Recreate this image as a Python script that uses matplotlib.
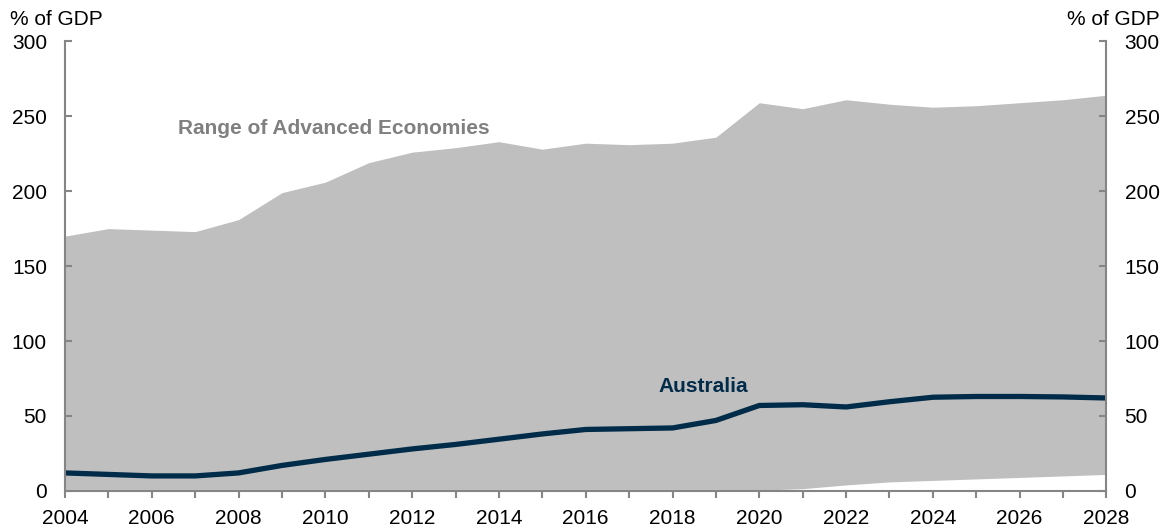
import matplotlib.pyplot as plt
import numpy as np

plt.rcParams['font.family'] = ['Liberation Sans', 'DejaVu Sans']

years = np.arange(2004, 2029)
# upper and lower bound of advanced economies range, % of GDP
range_high = [170, 175, 174, 173, 181, 199, 206, 219, 226, 229, 233, 228, 232, 231, 232, 236,
              259, 255, 261, 258, 256, 257, 259, 261, 264]
range_low = [1, 1, 1, 1, 1, 1, 1, 1, 1, 1, 1, 1, 1, 1, 1, 1,
             0.5, 1.5, 4, 6, 7, 8, 9, 10, 11]
australia = [12, 11, 10, 10, 12, 17, 21, 24.5, 28, 31, 34.5, 38, 41, 41.5, 42, 47,
             57, 57.5, 56, 59.5, 62.5, 63, 63, 62.7, 62]

grey = '#858585'
navy = '#002b49'
fs = 15

fig, ax = plt.subplots(figsize=(11.69, 5.29), dpi=100)
fig.subplots_adjust(left=0.0556, right=0.9465, top=0.922, bottom=0.072)

ax.fill_between(years, range_low, range_high, color='#bfbfbf', lw=0)
ax.plot(years, australia, color=navy, lw=3.8, solid_capstyle='butt')

ax.set_xlim(2004, 2028)
ax.set_ylim(0, 300)
ax.set_yticks(range(0, 301, 50))
ax.set_xticks(range(2004, 2029, 2))
ax.set_xticks(range(2004, 2029), minor=True)

for s in ['left', 'right', 'bottom']:
    ax.spines[s].set_color(grey)
    ax.spines[s].set_linewidth(1.5)
ax.spines['top'].set_visible(False)

ax.tick_params(axis='y', direction='in', length=5, width=1.5, color=grey,
               labelsize=fs, pad=13, left=True, right=True, labelright=True)
ax.tick_params(axis='x', which='both', direction='out', length=5, width=1.5,
               color=grey, labelsize=fs, pad=8)

fig.text(10 / 1169, 1 - 25 / 529, '% of GDP', ha='left', va='baseline', fontsize=fs)
fig.text(1160 / 1169, 1 - 25 / 529, '% of GDP', ha='right', va='baseline', fontsize=fs)
ax.text(2010.2, 235.5, 'Range of Advanced Economies', color='#808080', fontsize=fs,
        fontweight='bold', ha='center', va='bottom')
ax.text(2018.7, 63, 'Australia', color=navy, fontsize=fs, fontweight='bold',
        ha='center', va='bottom')

plt.savefig('out.png', dpi=100)
